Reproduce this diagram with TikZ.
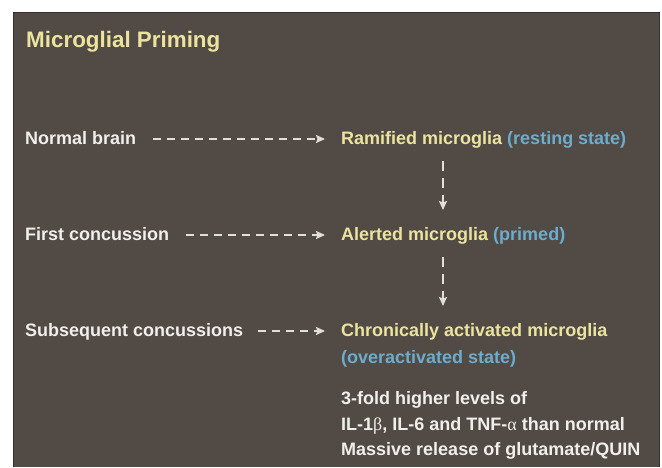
\documentclass[tikz,border=0pt]{standalone}
\usepackage{fontspec}
\setmainfont{Liberation Sans}
\newfontfamily\grk{Liberation Serif}
\usetikzlibrary{arrows.meta}
\definecolor{bgc}{RGB}{81,74,69}
\definecolor{edgec}{RGB}{52,47,44}
\definecolor{ylw}{RGB}{236,228,158}
\definecolor{blu}{RGB}{108,172,204}
\definecolor{wht}{RGB}{240,239,236}
\definecolor{arrc}{RGB}{225,223,220}
\tikzset{
  lbl/.style={anchor=base west, inner sep=0pt, font=\bfseries\fontsize{18}{20}\selectfont},
  ttl/.style={anchor=base west, inner sep=0pt, font=\bfseries\fontsize{22.4}{24}\selectfont, text=ylw},
  harr/.style={draw=arrc, line width=1.6pt, dash pattern=on 8pt off 6pt, -{Stealth[length=9pt,width=8pt,inset=1.5pt]}},
  varr/.style={draw=arrc, line width=1.6pt, dash pattern=on 10pt off 7pt, -{Stealth[length=9pt,width=8pt,inset=1.5pt]}}
}
\begin{document}
\begin{tikzpicture}[x=1pt,y=-1pt]
\useasboundingbox (0,0) rectangle (662,467);
\fill[white] (0,0) rectangle (662,467);
\fill[bgc] (13,12) rectangle (660,467);
\draw[edgec, line width=1.5pt] (13.5,467) -- (13.5,12.5) -- (659.5,12.5) -- (659.5,467);

\node[ttl] (title) at (26,47) {Microglial Priming};

\node[lbl, text=wht] (nb) at (25,144) {Normal brain};
\node[lbl, text=wht] (fc) at (25,240) {First concussion};
\node[lbl, text=wht] (sc) at (25,336) {Subsequent concussions};

\node[lbl, text=ylw] (rm) at (341,144) {Ramified microglia \textcolor{blu}{(resting state)}};
\node[lbl, text=ylw] (al) at (341,240) {Alerted microglia \textcolor{blu}{(primed)}};
\node[lbl, text=ylw] (ca) at (341,336) {Chronically activated microglia};
\node[lbl, text=blu] (ov) at (341,363) {(overactivated state)};

\node[lbl, text=wht] (l1) at (341,404) {3-fold higher levels of};
\node[lbl, text=wht] (l2) at (341,430) {IL-1{\grk\mdseries β}, IL-6 and TNF-{\grk\mdseries α} than normal};
\node[lbl, text=wht] (l3) at (341,455) {Massive release of glutamate/QUIN};

\draw[harr] ([xshift=17pt,yshift=5pt]nb.base east) -- ([xshift=-16pt,yshift=5pt]rm.base west);
\draw[harr] ([xshift=17pt,yshift=5pt]fc.base east) -- ([xshift=-16pt,yshift=5pt]al.base west);
\draw[harr] ([xshift=15pt,yshift=5pt]sc.base east) -- ([xshift=-16pt,yshift=5pt]ca.base west);

\draw[varr] ([xshift=102pt,yshift=-17pt]rm.base west) -- ([xshift=102pt,yshift=30pt]al.base west);
\draw[varr] ([xshift=102pt,yshift=-17pt]al.base west) -- ([xshift=102pt,yshift=30pt]ca.base west);
\end{tikzpicture}
\end{document}
